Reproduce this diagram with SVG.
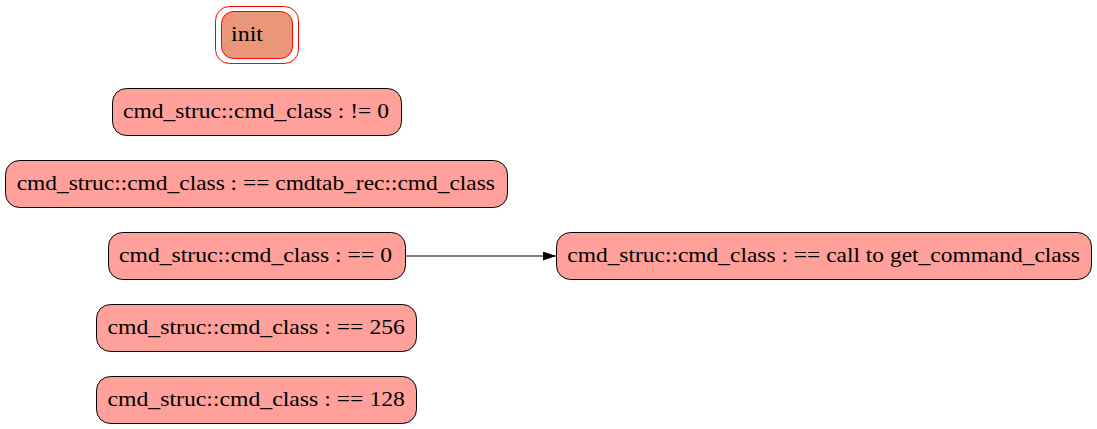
<svg xmlns="http://www.w3.org/2000/svg" width="1097" height="429" viewBox="0 0 1097 429">
<defs>
<style>
.n{fill:#ffa09b;stroke:#000;stroke-width:1}
.t{font-family:"Liberation Serif","Times New Roman",serif;font-size:21px;fill:#000}
.e{stroke:#000;stroke-width:1;fill:none}
</style>
<marker id="ah" markerWidth="14" markerHeight="10" refX="13" refY="4.5" orient="auto" markerUnits="userSpaceOnUse">
<path d="M0,0 L13,4.5 L0,9 Z" fill="#000"/>
</marker>
</defs>
<rect width="1097" height="429" fill="#fff"/>
<g id="init">
<rect x="215.5" y="6.5" width="83" height="57" rx="14" fill="none" stroke="#f00"/>
<rect x="221.5" y="11.5" width="71" height="47" rx="12" fill="#e9967a" stroke="#f00"/>
<text class="t" x="231" y="40.5" textLength="32" lengthAdjust="spacingAndGlyphs">init</text>
</g>
<g id="node1">
<rect class="n" x="112.5" y="88.5" width="289" height="47" rx="14"/>
<text class="t" x="123" y="117.7" textLength="266" lengthAdjust="spacingAndGlyphs">cmd_struc::cmd_class : != 0</text>
</g>
<g id="node2">
<rect class="n" x="5.5" y="160.5" width="502" height="47" rx="14"/>
<text class="t" x="16.7" y="189.7" textLength="478.3" lengthAdjust="spacingAndGlyphs">cmd_struc::cmd_class : == cmdtab_rec::cmd_class</text>
</g>
<g id="node3">
<rect class="n" x="108.5" y="232.5" width="297" height="47" rx="14"/>
<text class="t" x="119" y="261.7" textLength="273" lengthAdjust="spacingAndGlyphs">cmd_struc::cmd_class : == 0</text>
</g>
<g id="node4">
<rect class="n" x="556.5" y="232.5" width="535" height="47" rx="14"/>
<text class="t" x="567.3" y="261.7" textLength="512.7" lengthAdjust="spacingAndGlyphs">cmd_struc::cmd_class : == call to get_command_class</text>
</g>
<g id="node5">
<rect class="n" x="96.5" y="304.5" width="320" height="47" rx="14"/>
<text class="t" x="107.5" y="333.7" textLength="297.5" lengthAdjust="spacingAndGlyphs">cmd_struc::cmd_class : == 256</text>
</g>
<g id="node6">
<rect class="n" x="96.5" y="376.5" width="320" height="47" rx="14"/>
<text class="t" x="107.5" y="405.7" textLength="297.5" lengthAdjust="spacingAndGlyphs">cmd_struc::cmd_class : == 128</text>
</g>
<g id="edges">
<line class="e" x1="405.5" y1="256" x2="556" y2="256" marker-end="url(#ah)"/>
</g>
</svg>
